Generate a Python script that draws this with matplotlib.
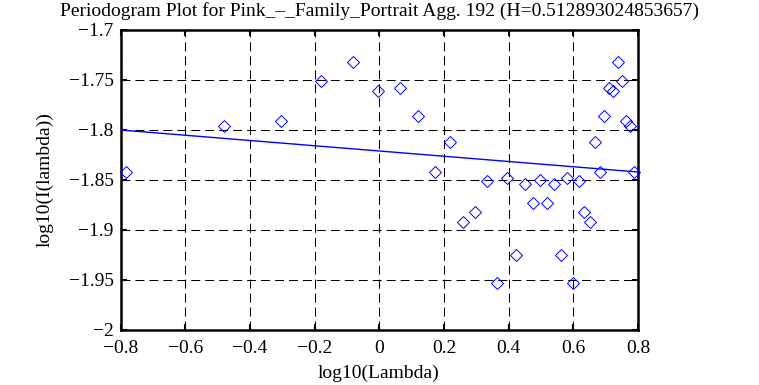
import matplotlib
matplotlib.use("Agg")
import matplotlib.pyplot as plt

plt.rcParams['font.family'] = ['Liberation Serif', 'DejaVu Serif']

title = "Periodogram Plot for Pink_\u2013_Family_Portrait Agg. 192 (H=0.512893024853657)"
xlabel = "log10(Lambda)"
ylabel = "log10(I(lambda))"

log_lambda = [-0.784, -0.481, -0.304, -0.180, -0.083, -0.004, 0.063, 0.121, 0.173, 0.218,
              0.260, 0.297, 0.332, 0.364, 0.395, 0.423, 0.449, 0.474, 0.497, 0.519,
              0.541, 0.561, 0.580, 0.599, 0.616, 0.633, 0.650, 0.666, 0.681, 0.696,
              0.710, 0.724, 0.737, 0.750, 0.762, 0.775, 0.787]
log_I = [-1.842, -1.796, -1.791, -1.751, -1.732, -1.761, -1.758, -1.786, -1.842, -1.812,
         -1.892, -1.882, -1.851, -1.953, -1.848, -1.925, -1.854, -1.873, -1.850, -1.873,
         -1.854, -1.925, -1.848, -1.953, -1.851, -1.882, -1.892, -1.812, -1.842, -1.786,
         -1.758, -1.761, -1.732, -1.751, -1.791, -1.796, -1.842]

fit_x = [-0.8, 0.8]
fit_y = [-1.800, -1.842]

xticks = [-0.8, -0.6, -0.4, -0.2, 0, 0.2, 0.4, 0.6, 0.8]
xticklabels = ["\u22120.8", "\u22120.6", "\u22120.4", "\u22120.2", "0", "0.2", "0.4", "0.6", "0.8"]
yticks = [-2.0, -1.95, -1.9, -1.85, -1.8, -1.75, -1.7]
yticklabels = ["\u22122", "\u22121.95", "\u22121.9", "\u22121.85", "\u22121.8", "\u22121.75", "\u22121.7"]

W, H = 759, 385
fig = plt.figure(figsize=(W/100, H/100), dpi=100)
ax = fig.add_axes([120.7/W, 1-330/H, (638-120.7)/W, 300/H])

ax.plot(log_lambda, log_I, linestyle='none', marker='D', markersize=6.4,
        markerfacecolor='none', markeredgecolor='#0000ff', markeredgewidth=0.7, clip_on=False, zorder=3)
ax.plot(fit_x, fit_y, color='#0000ff', linewidth=1.0, zorder=3)

ax.set_xlim(-0.8, 0.8)
ax.set_ylim(-2.0, -1.7)
ax.set_xticks(xticks)
ax.set_xticklabels(xticklabels)
ax.set_yticks(yticks)
ax.set_yticklabels(yticklabels)
ax.tick_params(direction='in', length=4.5, width=1.5, top=True, right=True, labelsize=14, colors='black')
ax.tick_params(axis='x', pad=7)
ax.tick_params(axis='y', pad=5)
ax.grid(True, color='black', linestyle=(0, (8.6, 4.8)), linewidth=0.75)
for s in ax.spines.values():
    s.set_linewidth(1.8)

fig.text(379/W, 1-16/H, title, fontsize=14, ha='center', va='baseline')
fig.text(379/W, 1-373/H, xlabel, fontsize=14, ha='center', va='center')
fig.text(45/W, 1-180/H, ylabel, fontsize=14, ha='center', va='center', rotation=90)

fig.savefig("out.png", dpi=100)
